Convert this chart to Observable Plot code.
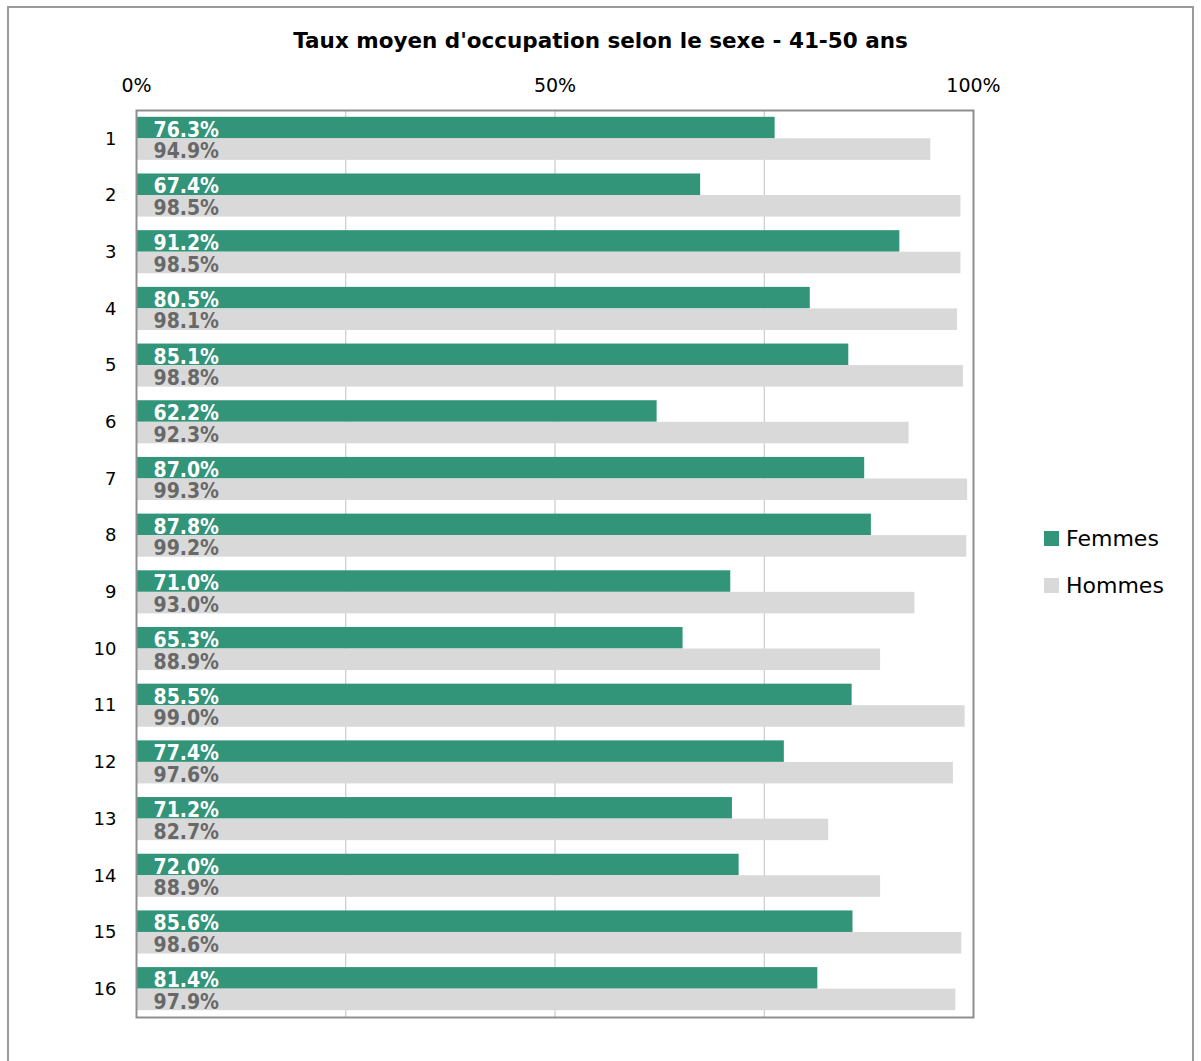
<!DOCTYPE html>
<html lang="fr">
<head>
<meta charset="utf-8">
<script src="https://cdn.jsdelivr.net/npm/d3@7"></script>
<script src="https://cdn.jsdelivr.net/npm/@observablehq/plot@0.6"></script>
<style>
  html, body { margin: 0; padding: 0; background: #fff; }
  body { width: 1201px; height: 1061px; position: relative; overflow: hidden; font-family: "DejaVu Sans", Verdana, sans-serif; }
  #box { position: absolute; left: 7px; top: 6px; width: 1187px; height: 1080px; border: 2px solid #9a9a9a; box-sizing: border-box; }
  #title { position: absolute; left: 0; width: 1201px; top: 28px; text-align: center;
           font-family: "DejaVu Sans", Verdana, sans-serif;
           font-weight: bold; font-size: 21.5px; color: #000; }
  #chart { position: absolute; left: 0; top: 0; }
  .legend { position: absolute; left: 1044px; font-size: 22px; color: #000; line-height: 1; }
  .legend span.sw { position: absolute; left: 0; top: 0; width: 15px; height: 15px; }
  .legend span.lab { position: absolute; left: 22px; top: -3px; white-space: nowrap; }
</style>
</head>
<body>
<div id="box"></div>
<div id="title">Taux moyen d'occupation selon le sexe - 41-50 ans</div>
<div id="chart"></div>
<div class="legend" style="top:531px"><span class="sw" style="background:#329479"></span><span class="lab">Femmes</span></div>
<div class="legend" style="top:578px"><span class="sw" style="background:#d9d9d9"></span><span class="lab">Hommes</span></div>
<script>
// Rangs 1 à 16, taux moyen d'occupation (%)
const rows = ["1","2","3","4","5","6","7","8","9","10","11","12","13","14","15","16"];
const femmes = [76.3, 67.4, 91.2, 80.5, 85.1, 62.2, 87.0, 87.8, 71.0, 65.3, 85.5, 77.4, 71.2, 72.0, 85.6, 81.4];
const hommes = [94.9, 98.5, 98.5, 98.1, 98.8, 92.3, 99.3, 99.2, 93.0, 88.9, 99.0, 97.6, 82.7, 88.9, 98.6, 97.9];
const xTicks = [0, 50, 100];
const gridAt = [25, 50, 75];

const colorF = "#329479";
const colorH = "#d9d9d9";

const dataF = rows.map((r, i) => ({row: r, value: femmes[i]}));
const dataH = rows.map((r, i) => ({row: r, value: hommes[i]}));

const width = 1201, height = 1040;
const mTop = 110, mBottom = 23, mLeft = 136, mRight = 228;
// each row band is split in two bars (Femmes on top, Hommes below) with a gap around the pair
const step = (height - mTop - mBottom) / rows.length;
const pairHeight = step * 0.76;
const gap = (step - pairHeight) / 2;
const half = step / 2;

const fmt = v => d3.format(".1f")(v) + "%";
const labelFont = "'DejaVu Sans Condensed', 'DejaVu Sans', sans-serif";

const chart = Plot.plot({
  width, height,
  marginTop: mTop, marginBottom: mBottom, marginLeft: mLeft, marginRight: mRight,
  style: {fontFamily: "'DejaVu Sans', Verdana, sans-serif", fontSize: "18px", color: "#000", background: "transparent", overflow: "visible"},
  x: {domain: [0, 100]},
  y: {domain: rows, padding: 0, round: false},
  marks: [
    Plot.ruleX(gridAt, {stroke: "#c0c0c0", strokeWidth: 1}),
    Plot.barX(dataF, {x: "value", y: "row", fill: colorF, insetTop: gap, insetBottom: half}),
    Plot.barX(dataH, {x: "value", y: "row", fill: colorH, insetTop: half, insetBottom: gap}),
    Plot.text(dataF, {y: "row", frameAnchor: "left", text: d => fmt(d.value), textAnchor: "start",
      dx: 17, dy: -pairHeight / 4 + 2, fill: "#ffffff", fontWeight: "bold", fontSize: 21, fontFamily: labelFont}),
    Plot.text(dataH, {y: "row", frameAnchor: "left", text: d => fmt(d.value), textAnchor: "start",
      dx: 17, dy: pairHeight / 4 + 2, fill: "#686868", fontWeight: "bold", fontSize: 21, fontFamily: labelFont}),
    Plot.frame({stroke: "#8f8f8f", strokeWidth: 2}),
    Plot.axisX({anchor: "top", ticks: xTicks, tickFormat: d => d + "%", tickSize: 0, tickPadding: 19, label: null, fontSize: 19}),
    Plot.axisY({anchor: "left", tickSize: 0, tickPadding: 20, label: null})
  ]
});
document.getElementById("chart").appendChild(chart);
</script>
</body>
</html>
